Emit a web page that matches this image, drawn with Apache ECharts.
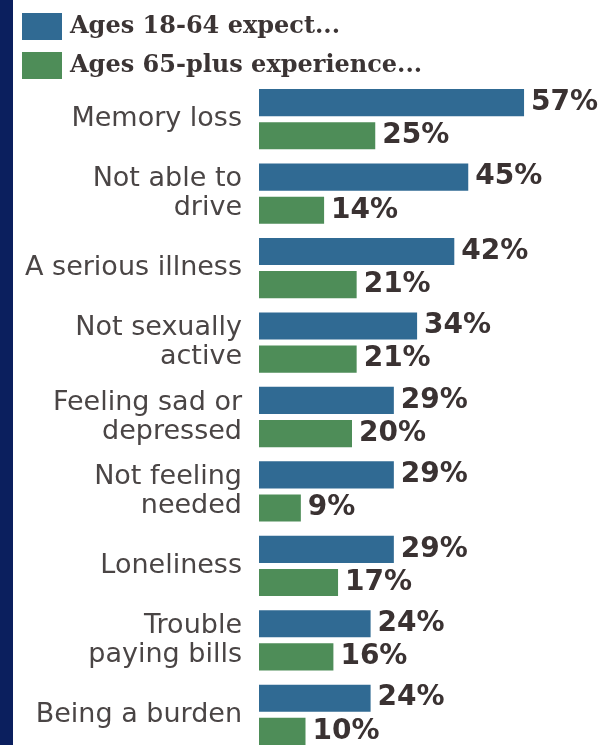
<!DOCTYPE html>
<html>
<head>
<meta charset="utf-8">
<script src="https://cdn.jsdelivr.net/npm/echarts@6/dist/echarts.min.js"></script>
<style>
  html, body { margin: 0; padding: 0; background: #ffffff; overflow: hidden; }
  /* the plot runs past the bottom edge, so the canvas is taller than the page */
  #chart { width: 605px; height: 760px; }
</style>
</head>
<body>
<div id="chart"></div>
<script>
// Worries about growing old: what younger adults expect vs. what seniors report
const categories = [
  'Memory loss',
  'Not able to\ndrive',
  'A serious illness',
  'Not sexually\nactive',
  'Feeling sad or\ndepressed',
  'Not feeling\nneeded',
  'Loneliness',
  'Trouble\npaying bills',
  'Being a burden'
];
const seriesNames = ['Ages 18-64 expect...', 'Ages 65-plus experience...'];
const expectValues = [57, 45, 42, 34, 29, 29, 29, 24, 24];
const experienceValues = [25, 14, 21, 21, 20, 9, 17, 16, 10];

const BLUE = '#306a93';
const GREEN = '#4e8d58';
const VALUE_TEXT = '#3a3232';

const chart = echarts.init(document.getElementById('chart'), null, { renderer: 'canvas' });

const valueLabel = {
  show: true,
  position: 'right',
  distance: 7,
  formatter: '{c}%',
  color: VALUE_TEXT,
  fontFamily: 'DejaVu Sans',
  fontWeight: 'bold',
  fontSize: 28
};

chart.setOption({
  backgroundColor: '#ffffff',
  animation: false,
  graphic: [{
    type: 'rect',
    left: 0,
    top: 0,
    shape: { width: 13, height: 760 },
    style: { fill: '#0b1f5e' },
    z: 10
  }],
  legend: {
    orient: 'vertical',
    left: 17,
    top: 8,
    itemWidth: 40,
    itemHeight: 27,
    itemGap: 12,
    icon: 'rect',
    selectedMode: false,
    data: seriesNames,
    textStyle: {
      fontFamily: 'DejaVu Serif',
      fontWeight: 'bold',
      fontSize: 24,
      color: '#3b3434',
      padding: [0, 0, 0, 3]
    }
  },
  grid: {
    left: 259,
    top: 82,
    width: 279,
    height: 670,
    containLabel: false
  },
  xAxis: {
    type: 'value',
    min: 0,
    max: 60,
    show: false
  },
  yAxis: {
    type: 'category',
    data: categories,
    inverse: true,
    axisLine: { show: false },
    axisTick: { show: false },
    splitLine: { show: false },
    axisLabel: {
      margin: 17,
      fontFamily: 'DejaVu Sans',
      fontSize: 27,
      lineHeight: 29,
      color: '#4a4545',
      align: 'right'
    }
  },
  series: [
    {
      name: seriesNames[0],
      type: 'bar',
      data: expectValues,
      itemStyle: { color: BLUE },
      barGap: '22%',
      barCategoryGap: '19%',
      label: valueLabel
    },
    {
      name: seriesNames[1],
      type: 'bar',
      data: experienceValues,
      itemStyle: { color: GREEN },
      barGap: '22%',
      barCategoryGap: '19%',
      label: valueLabel
    }
  ]
});
</script>
</body>
</html>
